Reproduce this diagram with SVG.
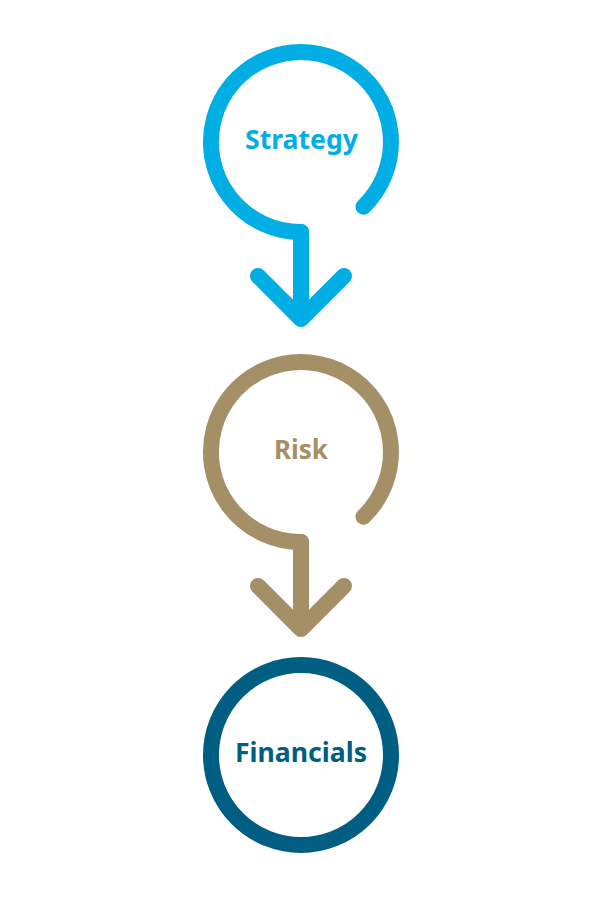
<svg xmlns="http://www.w3.org/2000/svg" width="600" height="899" viewBox="0 0 600 899">
<style>
.ring{fill:none;stroke-width:16;stroke-linecap:round;stroke-linejoin:round}
.lbl{font-family:"Noto Sans","Open Sans","Liberation Sans",sans-serif;font-weight:bold;font-size:27px;text-anchor:middle}
.blue{stroke:#00AEE5}
.tan{stroke:#A48F66}
.navy{stroke:#005E83}
</style>
<rect width="600" height="899" fill="#ffffff"/>
<g id="strategy">
<path class="ring blue" d="M363.5 206.7 A90 90 0 1 0 301 232"/>
<text class="lbl" x="301.5" y="149" fill="#00AEE5" textLength="113" lengthAdjust="spacingAndGlyphs">Strategy</text>
</g>
<g id="risk">
<path class="ring tan" d="M363.5 516.7 A90 90 0 1 0 301 542"/>
<text class="lbl" x="301" y="459" fill="#A48F66" textLength="54" lengthAdjust="spacingAndGlyphs">Risk</text>
</g>
<g id="financials">
<circle class="ring navy" cx="301" cy="755" r="90"/>
<text class="lbl" x="301" y="762" fill="#005E83" textLength="132" lengthAdjust="spacingAndGlyphs">Financials</text>
</g>
<g id="connectors">
<path class="ring blue" d="M301 232 L301 318 M258 276 L301 319 L344 276"/>
<path class="ring tan" d="M301 542 L301 628 M258 586 L301 629 L344 586"/>
</g>
</svg>
